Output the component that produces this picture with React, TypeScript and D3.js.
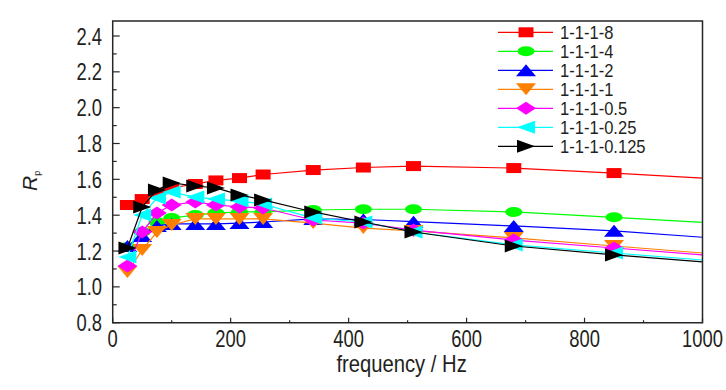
import * as d3 from "d3";

// measured frequencies (Hz) of the plotted points
const frequency = [25, 50, 75, 100, 140, 175, 215, 255, 340, 425, 510, 680, 850];

const rp8 = [1.457, 1.49, 1.524, 1.552, 1.574, 1.594, 1.607, 1.627, 1.652, 1.666, 1.674, 1.663, 1.635];
const rp4 = [1.222, 1.306, 1.362, 1.384, 1.401, 1.412, 1.418, 1.418, 1.429, 1.433, 1.433, 1.418, 1.388];
const rp2 = [1.228, 1.284, 1.34, 1.351, 1.351, 1.351, 1.356, 1.362, 1.379, 1.376, 1.364, 1.34, 1.313];
const rp1 = [1.083, 1.206, 1.306, 1.345, 1.379, 1.379, 1.379, 1.379, 1.356, 1.328, 1.312, 1.273, 1.228];
const rp05 = [1.116, 1.306, 1.412, 1.457, 1.474, 1.457, 1.446, 1.44, 1.373, 1.356, 1.317, 1.261, 1.217];
const rp025 = [1.167, 1.401, 1.496, 1.529, 1.501, 1.49, 1.479, 1.462, 1.384, 1.362, 1.306, 1.234, 1.189];
const rp0125 = [1.217, 1.446, 1.541, 1.58, 1.563, 1.552, 1.513, 1.485, 1.418, 1.362, 1.306, 1.228, 1.178];

// the curves run on to the right edge without a marker
const tailFrequency = 1000;
const tailValues = [1.607, 1.36, 1.277, 1.189, 1.178, 1.15, 1.139];

const seriesNames = ["1-1-1-8", "1-1-1-4", "1-1-1-2", "1-1-1-1", "1-1-1-0.5", "1-1-1-0.25", "1-1-1-0.125"];
const seriesValues = [rp8, rp4, rp2, rp1, rp05, rp025, rp0125];
const seriesColors = ["#ff0000", "#00ff00", "#0000ff", "#ff8000", "#ff00ff", "#00ffff", "#000000"];
const markerShapes = ["square", "circle", "up", "down", "diamond", "left", "right"];

const xTicks = [0, 200, 400, 600, 800, 1000];
const xMinorTicks = [100, 300, 500, 700, 900];
const yTicks = [0.8, 1.0, 1.2, 1.4, 1.6, 1.8, 2.0, 2.2, 2.4];
const yMinorTicks = [0.9, 1.1, 1.3, 1.5, 1.7, 1.9, 2.1, 2.3];

const FONT = "'Liberation Sans', Arial, sans-serif";
const INK = "#231f20";
const AXIS = "#262626";

function markerPath(shape: string) {
  switch (shape) {
    case "square":
      return "M-7.5,-5H7.5V5H-7.5Z";
    case "circle":
      return "M-8.5,0A8.5,5 0 1,0 8.5,0A8.5,5 0 1,0 -8.5,0Z";
    case "up":
      return "M0,-6L10,6H-10Z";
    case "down":
      return "M0,6L10,-6H-10Z";
    case "diamond":
      return "M0,-6.5L10,0L0,6.5L-10,0Z";
    case "left":
      return "M-9,0L9,-6.5V6.5Z";
    default:
      return "M9,0L-9,-6.5V6.5Z";
  }
}

export default function App() {
  const width = 726;
  const height = 390;
  const x = d3.scaleLinear([0, 1000], [112.7, 702.5]);
  const y = d3.scaleLinear([0.8, 2.4], [322.7, 36]);
  const top = 21;
  const left = x(0);
  const right = x(1000);
  const bottom = y(0.8);

  const line = d3
    .line<[number, number]>()
    .x((d) => x(d[0]))
    .y((d) => y(d[1]));

  return (
    <svg
      width={width}
      height={height}
      style={{ position: "absolute", left: 0, top: 0, background: "#fff" }}
      fontFamily={FONT}
    >
      <rect width={width} height={height} fill="#fff" />

      {/* series */}
      {seriesValues.map((vals, i) => {
        const pts: [number, number][] = frequency.map((f, j) => [f, vals[j]]);
        pts.push([tailFrequency, tailValues[i]]);
        return (
          <g key={seriesNames[i]}>
            <path d={line(pts) ?? ""} fill="none" stroke={seriesColors[i]} strokeWidth={1.2} />
            {frequency.map((f, j) => (
              <path
                key={f}
                d={markerPath(markerShapes[i])}
                transform={`translate(${x(f)},${y(vals[j])})`}
                fill={seriesColors[i]}
              />
            ))}
          </g>
        );
      })}

      {/* legend */}
      <g>
        <rect x={494} y={top + 1} width={205} height={136} fill="#fff" />
        {seriesNames.map((name, i) => {
          const ly = 32.3 + i * 19;
          return (
            <g key={name}>
              <line x1={498} x2={553} y1={ly} y2={ly} stroke={seriesColors[i]} strokeWidth={1.2} />
              <path d={markerPath(markerShapes[i])} transform={`translate(526,${ly})`} fill={seriesColors[i]} />
              <text
                transform={`translate(560,${ly + 6.5}) scale(0.92,1)`}
                fontSize={18}
                fill={INK}
              >
                {name}
              </text>
            </g>
          );
        })}
      </g>

      {/* frame */}
      <path
        d={`M${left},${top}H${right}V${bottom}H${left}Z`}
        fill="none"
        stroke={AXIS}
        strokeWidth={1.5}
      />

      {/* y axis */}
      {yTicks.map((t) => (
        <g key={t}>
          <line x1={left} x2={left + 7} y1={y(t)} y2={y(t)} stroke={AXIS} strokeWidth={1.2} />
          <text
            transform={`translate(102,${y(t) + 8.5}) scale(0.8,1)`}
            textAnchor="end"
            fontSize={23}
            fill={INK}
          >
            {t.toFixed(1)}
          </text>
        </g>
      ))}
      {yMinorTicks.map((t) => (
        <line key={t} x1={left} x2={left + 4} y1={y(t)} y2={y(t)} stroke={AXIS} strokeWidth={1.2} />
      ))}

      {/* x axis */}
      {xTicks.map((t) => (
        <g key={t}>
          <line x1={x(t)} x2={x(t)} y1={bottom} y2={bottom - 5} stroke={AXIS} strokeWidth={1.2} />
          <text
            transform={`translate(${x(t)},347) scale(0.8,1)`}
            textAnchor="middle"
            fontSize={23}
            fill={INK}
          >
            {t}
          </text>
        </g>
      ))}
      {xMinorTicks.map((t) => (
        <line key={t} x1={x(t)} x2={x(t)} y1={bottom} y2={bottom - 2.5} stroke={AXIS} strokeWidth={1.2} />
      ))}

      <text
        transform={`translate(${(left + right) / 2 - 6},372) scale(0.88,1)`}
        textAnchor="middle"
        fontSize={23}
        fill={INK}
      >
        frequency / Hz
      </text>

      <text transform="translate(37,191) rotate(-90)" fill={INK} fontSize={21}>
        <tspan fontStyle="italic">R</tspan>
        <tspan fontSize={9} dy={3}>
          p
        </tspan>
      </text>
    </svg>
  );
}
